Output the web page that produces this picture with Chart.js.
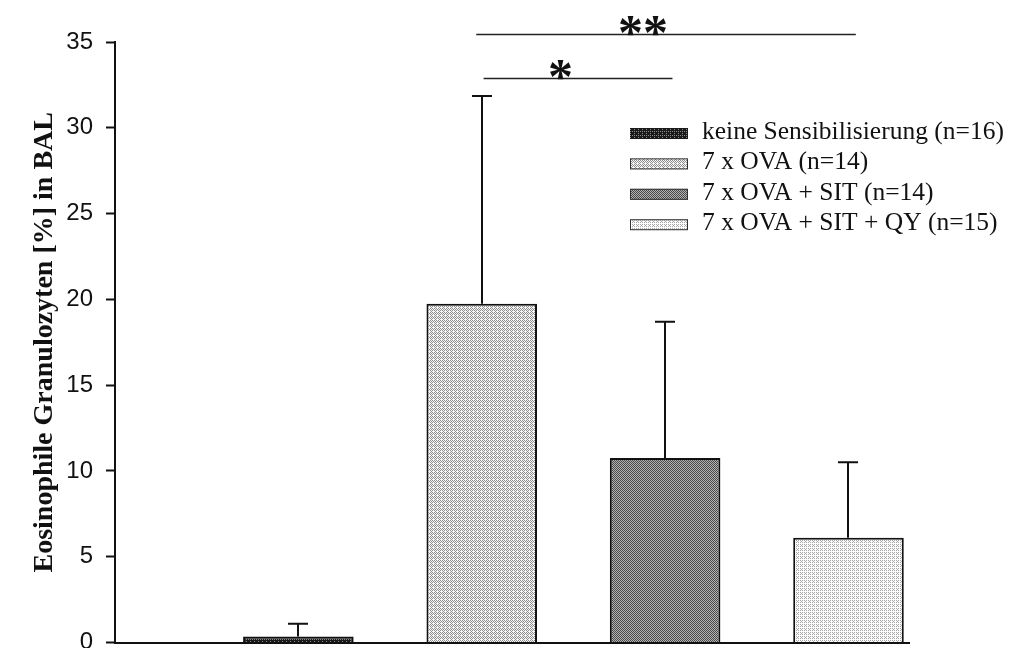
<!DOCTYPE html>
<html>
<head>
<meta charset="utf-8">
<script src="https://cdn.jsdelivr.net/npm/chart.js@4.4.1/dist/chart.umd.min.js"></script>
<style>
  html, body { margin: 0; padding: 0; background: #ffffff; }
  #wrap { width: 1019px; height: 648px; position: relative; }
</style>
</head>
<body>
<div id="wrap"><canvas id="chart"></canvas></div>
<script>
// Groups (legend text) and their bar positions on the x axis
const groupLabels = [
  'keine Sensibilisierung (n=16)',
  '7 x OVA (n=14)',
  '7 x OVA + SIT (n=14)',
  '7 x OVA + SIT + QY (n=15)'
];
const groupPositions = [1, 2, 3, 4];

// Eosinophil share in BAL (%), mean and upper standard deviation
const meanValues  = [0.35, 19.75, 10.75, 6.1];
const errorValues = [0.75, 12.1, 7.95, 4.4];

// Y axis ticks
const yTickValues = [0, 5, 10, 15, 20, 25, 30, 35];

// Significance brackets: span (in group positions), label, height (%)
const sigStart  = [2.01, 1.97];
const sigEnd    = [3.04, 4.04];
const sigLabelX = [2.43, 2.88];
const sigText   = ['*', '**'];
const sigLevel  = [32.9, 35.45];

// Ordered-dither halftone fills for the four groups
const bayer = [
  [0, 8, 2, 10],
  [12, 4, 14, 6],
  [3, 11, 1, 9],
  [15, 7, 13, 5]
];
function halftone(light, dark, darkShare) {
  const p = document.createElement('canvas');
  p.width = 4; p.height = 4;
  const g = p.getContext('2d');
  for (let y = 0; y < 4; y++) {
    for (let x = 0; x < 4; x++) {
      g.fillStyle = bayer[y][x] < darkShare ? dark : light;
      g.fillRect(x, y, 1, 1);
    }
  }
  return document.createElement('canvas').getContext('2d').createPattern(p, 'repeat');
}
const fills = [
  halftone('#8a8a8a', '#1a1a1a', 13),
  halftone('#f6f6f6', '#8e8e8e', 7),
  halftone('#b2b2b2', '#4a4a4a', 8),
  halftone('#fcfcfc', '#a8a8a8', 5)
];

const errorBars = {
  id: 'errorBars',
  afterDatasetsDraw(chart) {
    const ctx = chart.ctx;
    const meta = chart.getDatasetMeta(0);
    const ys = chart.scales.y;
    ctx.save();
    ctx.strokeStyle = '#111';
    ctx.lineWidth = 2;
    meta.data.forEach((bar, i) => {
      const x = Math.round(bar.x);
      const y0 = ys.getPixelForValue(meanValues[i]);
      const y1 = ys.getPixelForValue(meanValues[i] + errorValues[i]);
      ctx.beginPath();
      ctx.moveTo(x, y0);
      ctx.lineTo(x, y1);
      ctx.moveTo(x - 10, y1);
      ctx.lineTo(x + 10, y1);
      ctx.stroke();
    });
    ctx.restore();
  }
};

const significance = {
  id: 'significance',
  afterDraw(chart) {
    const ctx = chart.ctx;
    const xs = chart.scales.x, ys = chart.scales.y;
    ctx.save();
    ctx.strokeStyle = '#222';
    ctx.lineWidth = 1.5;
    ctx.fillStyle = '#111';
    ctx.font = 'bold 50px "Liberation Serif"';
    ctx.textAlign = 'center';
    ctx.textBaseline = 'alphabetic';
    for (let i = 0; i < sigText.length; i++) {
      const y = Math.round(ys.getPixelForValue(sigLevel[i])) + 0.5;
      ctx.beginPath();
      ctx.moveTo(xs.getPixelForValue(sigStart[i]), y);
      ctx.lineTo(xs.getPixelForValue(sigEnd[i]), y);
      ctx.stroke();
      ctx.fillText(sigText[i], xs.getPixelForValue(sigLabelX[i]), y + 14);
    }
    ctx.restore();
  }
};

const groupLegend = {
  id: 'groupLegend',
  afterDraw(chart) {
    const ctx = chart.ctx;
    ctx.save();
    ctx.font = '25.5px "Liberation Serif"';
    ctx.textAlign = 'left';
    ctx.textBaseline = 'alphabetic';
    groupLabels.forEach((label, i) => {
      const top = 128 + i * 30.4;
      ctx.fillStyle = fills[i];
      ctx.fillRect(630, top, 58, 11);
      if (i > 0) {
        ctx.strokeStyle = '#333';
        ctx.lineWidth = 1;
        ctx.strokeRect(630.5, top + 0.5, 57, 10);
      }
      ctx.fillStyle = '#111';
      ctx.fillText(label, 702, top + 11);
    });
    ctx.restore();
  }
};

new Chart(document.getElementById('chart'), {
  type: 'bar',
  data: {
    datasets: [{
      data: groupPositions.map((x, i) => ({ x: x, y: meanValues[i] })),
      backgroundColor: fills,
      borderColor: '#111',
      borderWidth: 2,
      borderSkipped: 'bottom',
      categoryPercentage: 1,
      barPercentage: 0.603
    }]
  },
  options: {
    responsive: true,
    maintainAspectRatio: false,
    animation: false,
    devicePixelRatio: 1,
    layout: { autoPadding: false, padding: { left: 0, top: 42, right: 110, bottom: 5.5 } },
    plugins: { legend: { display: false }, tooltip: { enabled: false } },
    scales: {
      x: {
        type: 'linear',
        min: 0,
        max: 4.33,
        offset: false,
        afterBuildTicks(s) { s.ticks = groupPositions.map(v => ({ value: v })); },
        grid: { display: false, drawTicks: false },
        border: { display: true, color: '#111', width: 2 },
        ticks: { display: false },
        afterFit(s) { s.height = 0; s.paddingLeft = 0; s.paddingRight = 0; }
      },
      y: {
        min: 0,
        max: 35,
        afterBuildTicks(s) { s.ticks = yTickValues.map(v => ({ value: v })); },
        grid: { drawOnChartArea: false, drawTicks: true, tickLength: 9, tickWidth: 2, tickColor: '#111' },
        border: { display: true, color: '#111', width: 2 },
        ticks: {
          color: '#111',
          padding: 13,
          font: { family: '"Liberation Sans", Arial, sans-serif', size: 24 }
        },
        title: {
          display: true,
          text: 'Eosinophile Granulozyten [%] in BAL',
          color: '#111',
          font: { family: '"Liberation Serif", "Times New Roman", serif', size: 28, weight: 'bold' },
          padding: { top: 28, bottom: 0 }
        },
        afterFit(s) { s.width = 115; s.paddingTop = 0; s.paddingBottom = 0; }
      }
    }
  },
  plugins: [errorBars, significance, groupLegend]
});
</script>
</body>
</html>
